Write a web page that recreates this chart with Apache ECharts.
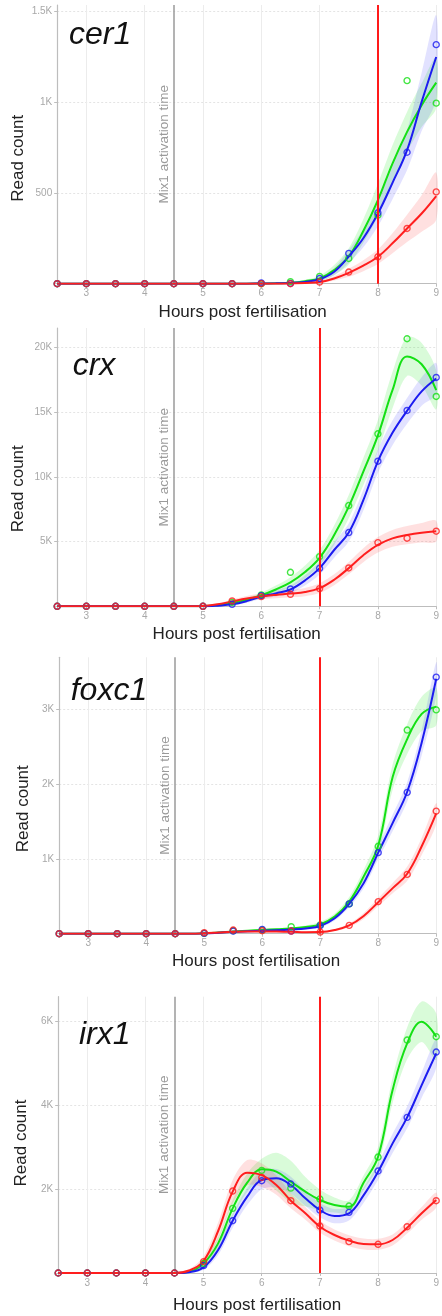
<!DOCTYPE html>
<html><head><meta charset="utf-8">
<script src="https://cdn.jsdelivr.net/npm/echarts@6/dist/echarts.min.js"></script>
<style>html,body{margin:0;padding:0;background:#fff}#c{width:442px;height:1316px}</style>
</head><body><div id="c"></div>
<script>
// ---------- data ----------
const X_PTS = [2.5,3,3.5,4,4.5,5,5.5,6,6.5,7,7.5,8,8.5,9];
const X_FIT = [2.5,2.75,3,3.25,3.5,3.75,4,4.25,4.5,4.75,5,5.25,5.5,5.75,6,6.25,6.5,6.75,7,7.25,7.5,7.75,8,8.25,8.5,8.75,9];
const GENES = ['cer1','crx','foxc1','irx1'];
const CUTOFF = [8,7,7,7];
const MIX1_TIME = 4.5;
const MIX1_LABEL = 'Mix1 activation time';
const X_TITLE = 'Hours post fertilisation';
const Y_TITLE = 'Read count';
const Y_MAX = [1533,21500,3700,6580];
const Y_STEP = [500,5000,1000,2000];

// cer1
const cer1_green_pts = [0,0,0,0,0,0,0,0,11,40,139,377,1117,993];
const cer1_blue_pts  = [0,0,0,0,0,0,0,4,2,29,167,390,723,1315];
const cer1_red_pts   = [0,0,0,0,0,0,0,0,0,9,64,148,304,505];
const cer1_green_fit = [0,0,0,0,0,0,0,0,0,0,0,0,0,0,1,2,5,14,29,75,150,290,460,661,835,982,1106];
const cer1_blue_fit  = [0,0,0,0,0,0,0,0,0,0,0,0,0,0,1,2,4,10,25,66,150,250,386,555,735,1000,1247];
const cer1_red_fit   = [0,0,0,0,0,0,0,0,0,0,0,0,0,0,0,0,1,4,9,29,60,99,148,222,304,386,482];
const cer1_green_band= [0,0,0,0,0,0,0,0,0,0,0,0,0,0,0,0,5,8,15,28,45,65,90,100,110,120,140];
const cer1_blue_band = [0,0,0,0,0,0,0,0,0,0,0,0,0,0,0,0,3,6,10,20,35,50,70,90,110,160,230];
const cer1_red_band  = [0,0,0,0,0,0,0,0,0,0,0,0,0,0,0,0,0,3,6,12,22,30,40,55,75,100,130];

// crx
const crx_green_pts = [0,0,0,0,0,0,300,876,2629,3840,7784,13325,20670,16211];
const crx_blue_pts  = [0,0,0,0,0,0,155,825,1340,2938,5696,11211,15129,17680];
const crx_red_pts   = [0,0,0,0,0,0,412,747,928,1366,2964,4923,5258,5799];
const crx_green_fit = [0,0,0,0,0,0,0,0,0,0,10,80,250,500,850,1300,1850,2650,3750,5500,7700,10400,13200,16700,19300,18700,16700];
const crx_blue_fit  = [0,0,0,0,0,0,0,0,0,0,0,50,150,400,750,1000,1300,2000,2950,4350,5700,8200,11200,13400,15100,16600,17600];
const crx_red_fit   = [0,0,0,0,0,0,0,0,0,0,30,150,380,600,760,880,980,1100,1400,2050,2950,3950,4750,5250,5500,5680,5800];
const crx_green_band= [0,0,0,0,0,0,0,0,0,0,0,50,100,150,200,300,400,500,600,750,900,1050,1200,1400,1500,1650,1500];
const crx_blue_band = [0,0,0,0,0,0,0,0,0,0,0,50,80,120,180,250,300,400,500,600,700,800,900,950,1000,1100,1200];
const crx_red_band  = [0,0,0,0,0,0,0,0,0,0,0,80,150,200,220,250,280,320,380,420,480,540,600,650,700,750,800];

// foxc1
const foxc1_green_pts = [0,0,0,0,0,5,40,49,94,117,399,1170,2726,2996];
const foxc1_blue_pts  = [0,0,0,0,0,5,36,58,36,108,399,1085,1892,3435];
const foxc1_red_pts   = [0,0,0,0,0,13,49,40,36,22,112,430,794,1641];
const foxc1_green_fit = [0,0,0,0,0,0,0,0,0,0,5,15,30,40,50,60,70,90,125,229,430,767,1180,2100,2605,2942,3040];
const foxc1_blue_fit  = [0,0,0,0,0,0,0,0,0,0,3,12,25,33,40,45,55,70,103,206,399,677,1085,1484,1900,2560,3413];
const foxc1_red_fit   = [0,0,0,0,0,0,0,0,0,0,5,15,25,30,30,28,25,20,22,49,112,238,422,610,803,1170,1610];
const foxc1_green_band= [0,0,0,0,0,0,0,0,0,0,5,5,5,5,8,10,15,20,30,40,60,90,130,170,200,230,250];
const foxc1_blue_band = [0,0,0,0,0,0,0,0,0,0,5,5,5,5,8,10,12,15,22,30,45,65,90,110,130,170,220];
const foxc1_red_band  = [0,0,0,0,0,0,0,0,0,0,5,5,5,5,5,5,6,8,10,15,25,40,55,70,95,115,140];

// irx1
const irx1_green_pts = [0,0,0,0,0,230,1540,2444,2024,1762,1595,2762,5548,5627];
const irx1_blue_pts  = [0,0,0,0,0,175,1246,2198,2119,1500,1444,2429,3706,5262];
const irx1_red_pts   = [0,0,0,0,0,270,1952,2278,1722,1119,746,683,1103,1722];
const irx1_green_fit = [0,0,0,0,0,0,0,0,0,30,230,706,1540,2150,2469,2413,2175,1937,1738,1619,1579,2150,2770,4357,5468,5984,5627];
const irx1_blue_fit  = [0,0,0,0,0,0,0,0,0,20,135,548,1246,1817,2214,2254,2095,1778,1500,1357,1421,1850,2413,3087,3706,4476,5230];
const irx1_red_fit   = [0,0,0,0,0,0,0,0,0,60,290,1000,1937,2390,2330,2095,1721,1421,1103,905,770,690,683,786,1079,1421,1738];
const irx1_green_band= [0,0,0,0,0,0,0,0,0,20,80,150,200,220,250,450,500,350,250,180,150,170,220,300,380,480,550];
const irx1_blue_band = [0,0,0,0,0,0,0,0,0,15,60,120,170,200,220,220,200,180,170,170,170,180,200,230,260,300,350];
const irx1_red_band  = [0,0,0,0,0,0,0,0,0,30,100,200,280,300,280,230,180,150,140,130,130,130,130,130,140,150,180];

const DATA = {
  cer1:{pts:[cer1_green_pts,cer1_blue_pts,cer1_red_pts],fit:[cer1_green_fit,cer1_blue_fit,cer1_red_fit],band:[cer1_green_band,cer1_blue_band,cer1_red_band]},
  crx:{pts:[crx_green_pts,crx_blue_pts,crx_red_pts],fit:[crx_green_fit,crx_blue_fit,crx_red_fit],band:[crx_green_band,crx_blue_band,crx_red_band]},
  foxc1:{pts:[foxc1_green_pts,foxc1_blue_pts,foxc1_red_pts],fit:[foxc1_green_fit,foxc1_blue_fit,foxc1_red_fit],band:[foxc1_green_band,foxc1_blue_band,foxc1_red_band]},
  irx1:{pts:[irx1_green_pts,irx1_blue_pts,irx1_red_pts],fit:[irx1_green_fit,irx1_blue_fit,irx1_red_fit],band:[irx1_green_band,irx1_blue_band,irx1_red_band]}
};

// ---------- layout / style ----------
const FONT = '"Liberation Sans", Arial, sans-serif';
const LINE_COLORS = ['#14e014','#1c1cf0','#ff1e1e'];
const BAND_COLORS = ['rgba(30,230,30,0.17)','rgba(50,50,255,0.14)','rgba(255,50,50,0.15)'];
const PANEL = [
  {top:5, bottom:283.7, left:57.2, right:440.7, gene:[69,35], xt:[242.7,312.3], yt:[18.3,158.3]},
  {top:328, bottom:606.3, left:57.2, right:440.7, gene:[72.7,366], xt:[236.7,634.3], yt:[18,488.7]},
  {top:657.3, bottom:933.7, left:59.2, right:442, gene:[70.7,691], xt:[256,961], yt:[23.3,808.7]},
  {top:996.7, bottom:1273, left:58.2, right:442, gene:[79,1035], xt:[257,1305], yt:[21.7,1143]}
];

function fmtY(v){ if(v===0) return ''; return v>=1000 ? (v/1000)+'K' : String(v); }

const grids=[], xAxes=[], yAxes=[], series=[], graphics=[];
GENES.forEach((g,i)=>{
  const p = PANEL[i];
  grids.push({left:p.left, top:p.top, width:p.right-p.left, height:p.bottom-p.top, containLabel:false});
  xAxes.push({type:'value', gridIndex:i, min:2.5, max:9, splitNumber:6,
    axisLine:{show:true, onZero:false, lineStyle:{color:'#bdbdbd', width:1.2}},
    axisTick:{show:true, length:3, lineStyle:{color:'#bdbdbd'}},
    axisLabel:{show:true, margin:5, color:'#a8a8a8', fontSize:10, fontFamily:FONT,
      formatter:v=> (Math.abs(v-Math.round(v))<1e-9 ? String(Math.round(v)) : '')},
    splitLine:{show:true, lineStyle:{color:'#ececec', width:1}}
  });
  yAxes.push({type:'value', gridIndex:i, min:0, max:Y_MAX[i], interval:Y_STEP[i],
    axisLine:{show:true, lineStyle:{color:'#bdbdbd', width:1.2}},
    axisTick:{show:true, length:3, lineStyle:{color:'#bdbdbd'}},
    axisLabel:{show:true, margin:5, color:'#a8a8a8', fontSize:10, fontFamily:FONT, showMaxLabel:false,
      formatter:v=> (v % Y_STEP[i]===0 ? fmtY(v) : '')},
    splitLine:{show:true, showMaxLine:false, lineStyle:{color:'#e4e4e4', width:1, type:[2,2]}}
  });
  const d = DATA[g];
  // confidence bands (custom polygons through the axes' coordinate system)
  for(let k=0;k<3;k++){
    const upper = X_FIT.map((x,j)=>[x, d.fit[k][j]+d.band[k][j]]);
    const lower = X_FIT.map((x,j)=>[x, Math.max(0, d.fit[k][j]-d.band[k][j])]);
    const s = {type:'custom', xAxisIndex:i, yAxisIndex:i, data:[[X_FIT[0],0]], clip:true, silent:true, z:1,
      renderItem:(params, api)=>{
        const up = upper.map(pt=>api.coord(pt));
        const lo = lower.map(pt=>api.coord(pt)).reverse();
        return {type:'polygon', shape:{points:up.concat(lo), smooth:0.3}, style:{fill:BAND_COLORS[k], stroke:null}};
      }};
    if(k===0){
      s.markLine = {silent:true, symbol:['none','none'], z:1,
        data:[{xAxis:MIX1_TIME, lineStyle:{color:'#9a9a9a', width:1.5, type:'solid'},
          label:{show:true, formatter:MIX1_LABEL, position:'insideMiddleTop', distance:3,
            color:'#9a9a9a', fontSize:13.5, fontFamily:FONT}}]};
    }
    series.push(s);
  }
  // fit lines
  for(let k=0;k<3;k++){
    series.push({type:'line', xAxisIndex:i, yAxisIndex:i, data:X_FIT.map((x,j)=>[x,d.fit[k][j]]),
      smooth:0.4, showSymbol:false, lineStyle:{color:LINE_COLORS[k], width:2}, silent:true, z:3});
  }
  // points
  for(let k=0;k<3;k++){
    const s = {type:'scatter', xAxisIndex:i, yAxisIndex:i, data:X_PTS.map((x,j)=>[x,d.pts[k][j]]),
      symbol:'circle', symbolSize:6,
      itemStyle:{color:'rgba(255,255,255,0)', borderColor:LINE_COLORS[k], borderWidth:1.4}, silent:true, z:4};
    if(k===2){
      s.markLine = {silent:true, symbol:['none','none'], z:5,
        data:[{xAxis:CUTOFF[i], lineStyle:{color:'#ff1a1a', width:2, type:'solid'}, label:{show:false}}]};
    }
    series.push(s);
  }
  graphics.push({type:'text', x:p.gene[0], y:p.gene[1], z:10,
    style:{text:g, font:'italic 32px '+FONT, fill:'#111', verticalAlign:'middle', align:'left'}});
  graphics.push({type:'text', x:p.xt[0], y:p.xt[1], z:10,
    style:{text:X_TITLE, font:'17px '+FONT, fill:'#222', verticalAlign:'middle', align:'center'}});
  graphics.push({type:'text', x:p.yt[0], y:p.yt[1], rotation:Math.PI/2, z:10,
    style:{text:Y_TITLE, font:'17px '+FONT, fill:'#222', verticalAlign:'middle', align:'center'}});
});

const chart = echarts.init(document.getElementById('c'), null, {renderer:'canvas'});
chart.setOption({animation:false, backgroundColor:'#fff', grid:grids, xAxis:xAxes, yAxis:yAxes, series:series, graphic:graphics});
</script></body></html>
